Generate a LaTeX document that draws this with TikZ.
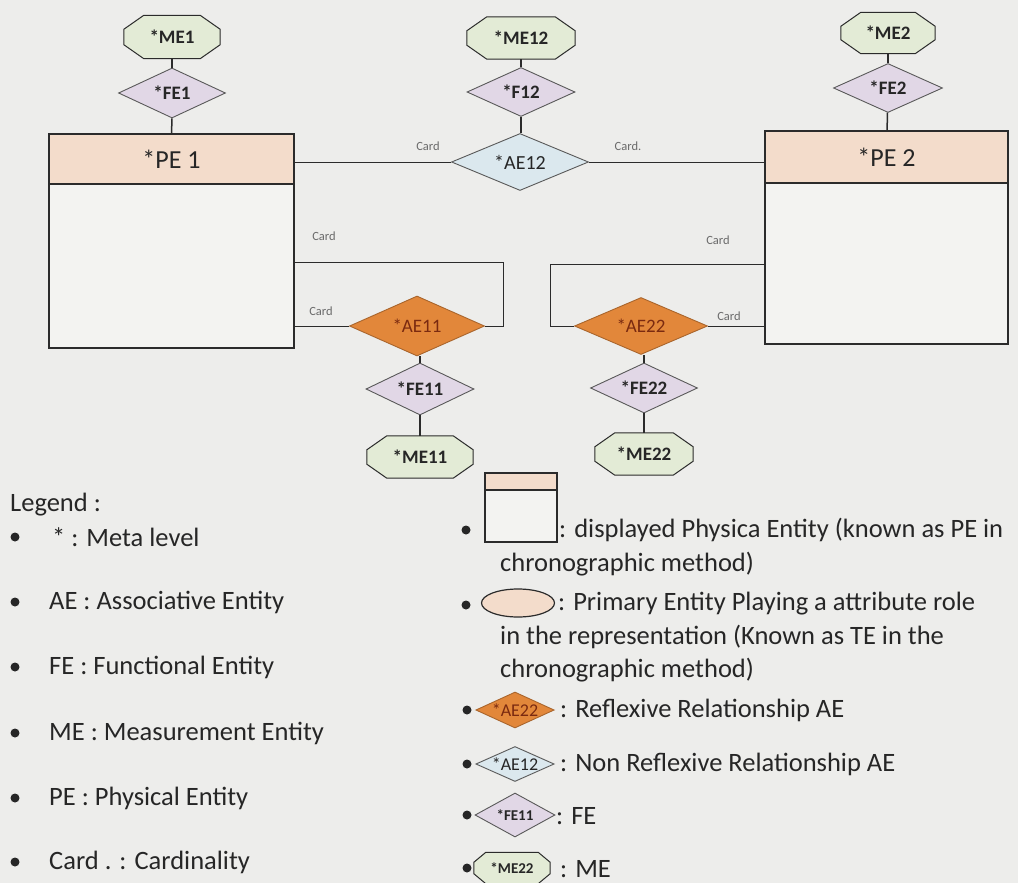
\documentclass[tikz,border=0pt]{standalone}
\usepackage{fontspec}
\setmainfont{Carlito}
\usetikzlibrary{shapes.geometric,calc}
\pgfdeclarelayer{back}
\pgfdeclarelayer{bg}
\pgfsetlayers{back,bg,main}
\definecolor{bgc}{HTML}{EDEDEB}
\definecolor{mefill}{HTML}{E3EBD6}
\definecolor{fefill}{HTML}{E1D7E6}
\definecolor{aeblue}{HTML}{DBE8EE}
\definecolor{aeorange}{HTML}{E2873A}
\definecolor{peach}{HTML}{F3DCCB}
\definecolor{pebody}{HTML}{F3F3F1}
\definecolor{linec}{HTML}{2B2B2B}
\definecolor{txt}{HTML}{262626}
\definecolor{aetxt}{HTML}{7A2A10}
\definecolor{cardc}{HTML}{6A6A6A}
\newcommand{\octo}[3]{%
 \begin{pgfonlayer}{bg}
 \filldraw[draw=linec, fill=mefill, line width=1pt] ($(#1.north west)+(#2,0)$) -- ($(#1.north east)+(-#2,0)$) -- ($(#1.north east)+(0,#3)$) -- ($(#1.south east)+(0,-#3)$) -- ($(#1.south east)+(-#2,0)$) -- ($(#1.south west)+(#2,0)$) -- ($(#1.south west)+(0,-#3)$) -- ($(#1.north west)+(0,#3)$) -- cycle;
 \end{pgfonlayer}}
\begin{document}
\begin{tikzpicture}[x=1pt,y=-1pt,
  vline/.style={draw=linec, line width=1.5pt},
  hline/.style={draw=linec, line width=1pt},
  metext/.style={inner sep=0, font=\fontsize{19}{19}\selectfont\bfseries, text=txt},
  fe/.style={diamond, aspect=2.5, inner sep=0, draw=gray!70!black, line width=0.9pt, fill=fefill, font=\fontsize{19}{19}\selectfont\bfseries, text=txt},
  aeb/.style={diamond, aspect=2.5, inner sep=0, draw=gray!70!black, line width=0.9pt, fill=aeblue, font=\fontsize{20}{20}\selectfont, text=txt},
  aeo/.style={diamond, aspect=2.5, inner sep=0, draw=aeorange!75!black, line width=0.9pt, fill=aeorange, font=\fontsize{19}{19}\selectfont, text=aetxt},
  pebox/.style={rectangle, draw=linec, line width=1.4pt, fill=pebody, inner sep=0},
  pehead/.style={rectangle, draw=linec, line width=1.4pt, fill=peach, inner sep=0, font=\fontsize{26}{26}\selectfont, text=txt},
  card/.style={font=\fontsize{12.5}{12.5}\selectfont, text=cardc, inner sep=0},
  leg/.style={anchor=west, inner sep=0, font=\fontsize{26.5}{26.5}\selectfont, text=txt},
  dot/.style={circle, fill=txt, inner sep=0, minimum size=9},
]
\begin{pgfonlayer}{back}
\fill[bgc] (0,0) rectangle (1018,883);
\end{pgfonlayer}
\useasboundingbox (0,0) rectangle (1018,883);

% ---------- left entity
\node[metext, minimum width=96, minimum height=43] (ME1) at (172,37) {*ME1};
\octo{ME1}{20}{14}
\node[fe, minimum width=107, minimum height=50] (FE1) at (172,93) {*FE1};
\node[pebox, minimum width=245, minimum height=214] (PE1) at (171.5,241) {};
\node[pehead, minimum width=245, minimum height=50, anchor=north] (PE1h) at (PE1.north) {*PE 1};
\draw[vline] (ME1) -- (FE1);
\draw[vline] (FE1) -- (PE1h);

% ---------- middle
\node[metext, minimum width=108, minimum height=42] (ME12) at (521,38) {*ME12};
\octo{ME12}{20}{14}
\node[fe, minimum width=108, minimum height=49] (F12) at (521,92) {*F12};
\node[aeb, minimum width=137, minimum height=57] (AE12) at (520,162) {*AE12};
\draw[vline] (ME12) -- (F12);
\draw[vline] (F12.south) -- (F12.south |- AE12.north);

% ---------- right entity
\node[metext, minimum width=94, minimum height=41] (ME2) at (888,33) {*ME2};
\octo{ME2}{20}{14}
\node[fe, minimum width=109, minimum height=49] (FE2) at (888,88) {*FE2};
\node[pebox, minimum width=243, minimum height=213] (PE2) at (886.5,237.5) {};
\node[pehead, minimum width=243, minimum height=52, anchor=north] (PE2h) at (PE2.north) {*PE 2};
\draw[vline] (ME2) -- (FE2);
\draw[vline] (FE2) -- (PE2h);

\draw[hline] (AE12.west) -- (AE12.west -| PE1.east);
\draw[hline] (AE12.east) -- (AE12.east -| PE2.west);
\node[card] (c1) at (428,146) {Card};
\node[card] (c2) at (628,146) {Card.};

% ---------- reflexive AE11
\node[aeo, minimum width=135, minimum height=60] (AE11) at (417,326) {*AE11};
\node[fe, minimum width=108, minimum height=52] (FE11) at (420,389) {*FE11};
\node[metext, minimum width=106, minimum height=42] (ME11) at (420,457) {*ME11};
\octo{ME11}{20}{14}
\draw[vline] (FE11.north) -- (FE11.north |- AE11.south);
\draw[vline] (FE11) -- (ME11);
\coordinate (k1) at (503,262);
\draw[hline] (AE11.west) -- (AE11.west -| PE1.east);
\draw[hline] (AE11.east) -| (k1) -- (k1 -| PE1.east);
\node[card] (c3) at (324,236) {Card};
\node[card] (c4) at (321,311) {Card};

% ---------- reflexive AE22
\node[aeo, minimum width=133, minimum height=57] (AE22) at (641,326) {*AE22};
\node[fe, minimum width=107, minimum height=50] (FE22) at (644,388) {*FE22};
\node[metext, minimum width=98, minimum height=42] (ME22) at (644,454) {*ME22};
\octo{ME22}{20}{14}
\draw[vline] (FE22.north) -- (FE22.north |- AE22.south);
\draw[vline] (FE22) -- (ME22);
\coordinate (k2) at (550,264);
\draw[hline] (AE22.east) -- (AE22.east -| PE2.west);
\draw[hline] (AE22.west) -| (k2) -- (k2 -| PE2.west);
\node[card] (c5) at (718,240) {Card};
\node[card] (c6) at (729,316) {Card};

% ---------- legend, left
\node[leg] (lg0) at (10,505) {Legend :};
\node[dot] (b1) at (15,537) {};
\node[leg] (lg1) at (52,537) {* : Meta level};
\node[dot] (b2) at (15,602) {};
\node[leg] (lg2) at (49,602) {AE : Associative Entity};
\node[dot] (b3) at (15,667) {};
\node[leg] (lg3) at (49,667) {FE : Functional Entity};
\node[dot] (b4) at (15,733) {};
\node[leg] (lg4) at (49,733) {ME : Measurement Entity};
\node[dot] (b5) at (15,798) {};
\node[leg] (lg5) at (49,798) {PE : Physical Entity};
\node[dot] (b6) at (15,862) {};
\node[leg] (lg6) at (49,862) {Card . : Cardinality};

% ---------- legend, right
\node[dot] (r1) at (466,530) {};
\node[rectangle, draw=linec, line width=1.2pt, fill=pebody, minimum width=72, minimum height=69, inner sep=0] (iPE) at (521,507.5) {};
\node[rectangle, draw=linec, line width=1.2pt, fill=peach, minimum width=72, minimum height=17, inner sep=0, anchor=north] (iPEh) at (iPE.north) {};
\node[leg] (rt1) at (559,530) {: displayed Physica Entity (known as PE in};
\node[leg] (rt1b) at (500,564) {chronographic method)};

\node[dot] (r2) at (466,605) {};
\node[ellipse, draw=linec, line width=1.2pt, fill=peach, minimum width=73, minimum height=28, inner sep=0] (iTE) at (518,603) {};
\node[leg] (rt2) at (558,604) {: Primary Entity Playing a attribute role};
\node[leg] (rt2b) at (500,637) {in the representation (Known as TE in the};
\node[leg] (rt2c) at (500,670) {chronographic method)};

\node[dot] (r3) at (467,710) {};
\node[aeo, minimum width=76, minimum height=36, font=\fontsize{18}{18}\selectfont] (iAE22) at (515,710) {*AE22};
\node[leg] (rt3) at (560,710) {: Reflexive Relationship AE};

\node[dot] (r4) at (467,764) {};
\node[aeb, minimum width=74, minimum height=35, font=\fontsize{18}{18}\selectfont] (iAE12) at (515,764) {*AE12};
\node[leg] (rt4) at (560,764) {: Non Reflexive Relationship AE};

\node[dot] (r5) at (467,815) {};
\node[fe, minimum width=80, minimum height=44, font=\fontsize{15}{15}\selectfont\bfseries] (iFE11) at (515,815) {*FE11};
\node[leg] (rt5) at (556,816) {: FE};

\node[dot] (r6) at (467,868) {};
\node[metext, minimum width=76, minimum height=31, font=\fontsize{15}{15}\selectfont\bfseries] (iME22) at (512,868) {*ME22};
\octo{iME22}{12}{10}
\node[leg] (rt6) at (560,869) {: ME};
\end{tikzpicture}
\end{document}
